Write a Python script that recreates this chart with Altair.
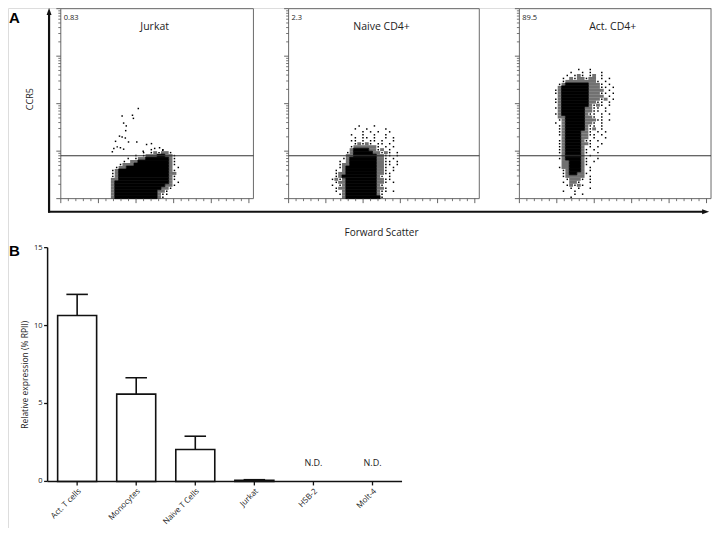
import altair as alt
import pandas as pd

# ---------------- data ----------------
panel_names = ["Jurkat", "Naive CD4+", "Act. CD4+"]
panel_pct = ["0.83", "2.3", "89.5"]
gate_level = [8.0, 8.0, 8.0]

fsc_major = [0, 200, 400, 600, 800, 1000]
fsc_minor = [40, 80, 120, 160, 240, 280, 320, 360, 440, 480, 520, 560,
             640, 680, 720, 760, 840, 880, 920, 960]
ccr5_major = [1, 10, 100, 1000, 10000]
ccr5_minor = [k * 10 ** e for e in range(4) for k in range(2, 10)]

# density maps of the dot clouds ('#' dense, '+' medium, '.' single events)
# column = 1/50 of the FSC range (0-1024), row = 1/16 decade of CCR5
jurkat_map = (12, 16, [
    "           .  .",
    "         . .+.++.",
    "       . .+++##++.",
    "     . .++######+.",
    "    . ++########+.",
    "   .+++#########+.",
    "  .++###########+ .",
    " .+#############+.",
    " .+#############++",
    " .+#############+.",
    " ++#############+.",
    " +##############+ .",
    " +#############++.",
    " +############++.",
    " +###########++.",
    " +###########+..",
    " +###########+.",
])
jurkat_out_x = [412, 326, 381, 386, 334, 348, 345, 312, 326, 343, 404, 291,
                360, 317, 334, 282, 456, 482, 438, 499, 525, 542, 274, 300]
jurkat_out_y = [79, 55, 57, 49, 39, 34, 27, 20.7, 19.8, 18.9, 15.6, 16.1,
                15.6, 11.8, 11.0, 11.4, 13.8, 14.4, 10.0, 11.4, 11.8, 10.5, 9.7, 12.3]

naive_map = (11, 24, [
    "       .   .",
    "      .  .    .",
    "        . . .  .",
    "     .  .  .  .",
    "      . .. .  . .",
    "     .. . .. .  .",
    "      .+.+. .. .",
    "     .++++++. . .",
    "     +####++.+ .",
    "    .+#####++.+. .",
    "    ++######++.. .",
    "   .+#######++. .",
    "  . +#######++.. .",
    "  .++#######++.. .",
    "  .+########++. .",
    " . +########++. .",
    " .++########++..",
    " .+#########+. .",
    ".+.+########++..",
    " .++########++. .",
    ". .+########+.",
    " .++########++.",
    " . +########+.. .",
    "  .+########+.",
    "   +#########.",
])

act_map = (9, 43, [
    "      .  .",
    "    .  . .  .",
    "   . .+. .+ .",
    "  . +.++.++ . .",
    "  .++++++++. .",
    " .+######+++. .",
    " +#######+++.. .",
    ".+#######++++ .",
    ".+#######+++.. .",
    " +#######++++ .",
    ".+#######+++.+ .",
    ".+#######++.. .",
    " +#######+.+. .",
    ".+######++.. .",
    " +######++.. .",
    ".+######+.. . .",
    " ++#####++. .",
    " .+#####+++.. .",
    ". +#####++. .",
    " .+#####+.. .",
    " .+#####+.+ .",
    " .+####++. . .",
    " .+####++.. .",
    "  +####++ .  .",
    " .+####+.. .",
    " .+####++.  .",
    " .+####+ . .",
    " .+####+. .",
    " .+####+.  .",
    "  +####+ .",
    " .+####+.  .",
    "  ++###+. .",
    "  ++###+.",
    " .++###+ .",
    "  .+###+ .",
    "  .+##++.",
    "  .+++++ .",
    "   .+++. .",
    "  . ++.  .",
    "   .+.+.",
    "    . .  .",
    "  .  .",
    "     . .",
    "    .",
])
flow_maps = [jurkat_map, naive_map, act_map]

bar_cats = ["Act. T cells", "Monocytes", "Naive T Cells", "Jurkat", "HSB-2", "Molt-4"]
bar_vals = [10.65, 5.6, 2.05, 0.08, None, None]
bar_err = [1.35, 1.05, 0.85, 0.03, None, None]
bar_ticks = [0, 5, 10, 15]
nd_cats = ["HSB-2", "Molt-4"]
nd_level = 1.2

# ---------------- layout helpers ----------------
SXF = 704 / 720
SYF = 520 / 536


def PX(x):
    return x * SXF


def PY(y):
    return y * SYF


FLOW_X = [(54, 251), (287, 482), (523, 719)]
FLOW_TOP, FLOW_BOT = 0.7, 196.5
FONT = "Open Sans"
CW = 1024 / 50
one = pd.DataFrame({"d": [0]})


def cell_tables(col0, top, rows):
    """Runs of '#' and '+' become rects, '.' cells become single dots."""
    runs, dots = [], []
    for i, s in enumerate(rows):
        r = top - i
        j = 0
        while j < len(s):
            ch = s[j]
            if ch == " ":
                j += 1
                continue
            if ch == ".":
                c = col0 + j
                dots.append({"xc": (c + 0.5) * CW, "yc": 10 ** ((r + 0.5) / 16)})
                j += 1
                continue
            k = j
            while k < len(s) and s[k] == ch:
                k += 1
            runs.append({"x0": (col0 + j) * CW, "x1": (col0 + k) * CW,
                         "y0": 10 ** (r / 16), "y1": 10 ** ((r + 1) / 16), "k": ch})
            j = k
    return pd.DataFrame(runs), pd.DataFrame(dots)


layers = []

for i in range(3):
    L, R = PX(FLOW_X[i][0]), PX(FLOW_X[i][1])
    T, B = PY(FLOW_TOP), PY(FLOW_BOT)
    xs = alt.Scale(domain=[0, 1024], range=[L, R], nice=False, zero=False)
    ys = alt.Scale(type="log", domain=[1, 10000], range=[B, T], nice=False)

    def XE(f):
        return alt.X(f, type="quantitative", scale=xs, axis=None)

    def YE(f):
        return alt.Y(f, type="quantitative", scale=ys, axis=None)

    runs, dots = cell_tables(*flow_maps[i])
    dense = runs[runs.k == "#"]
    mid = runs[runs.k == "+"]

    frame = pd.DataFrame({"x0": [0], "x1": [1024], "y0": [1], "y1": [10000]})
    layers.append(alt.Chart(frame).mark_rect(fillOpacity=0, stroke="#6a6a6a", strokeWidth=1)
                  .encode(x=XE("x0"), x2="x1:Q", y=YE("y0"), y2="y1:Q"))
    layers.append(alt.Chart(mid).mark_rect(color="#3a3a3a", opacity=0.72)
                  .encode(x=XE("x0"), x2="x1:Q", y=YE("y0"), y2="y1:Q"))
    layers.append(alt.Chart(dense).mark_rect(color="black", stroke="black", strokeWidth=0.7, opacity=1)
                  .encode(x=XE("x0"), x2="x1:Q", y=YE("y0"), y2="y1:Q"))
    layers.append(alt.Chart(dots).mark_square(size=2.2, color="black", opacity=1)
                  .encode(x=XE("xc"), y=YE("yc")))
    if i == 0:
        outl = pd.DataFrame({"x": jurkat_out_x, "y": jurkat_out_y})
        layers.append(alt.Chart(outl).mark_square(size=2.2, color="black", opacity=1)
                      .encode(x=XE("x"), y=YE("y")))
    gate = pd.DataFrame({"x0": [0], "x1": [1024], "g": [gate_level[i]]})
    layers.append(alt.Chart(gate).mark_rule(color="#333333", strokeWidth=1.1)
                  .encode(x=XE("x0"), x2="x1:Q", y=YE("g")))
    # axis ticks
    layers.append(alt.Chart(pd.DataFrame({"t": fsc_major})).mark_rule(color="#555555", strokeWidth=0.9)
                  .encode(x=XE("t"), y=alt.value(B), y2=alt.value(B + 4.5)))
    layers.append(alt.Chart(pd.DataFrame({"t": fsc_minor})).mark_rule(color="#555555", strokeWidth=0.8)
                  .encode(x=XE("t"), y=alt.value(B), y2=alt.value(B + 2.5)))
    layers.append(alt.Chart(pd.DataFrame({"t": ccr5_major})).mark_rule(color="#555555", strokeWidth=0.9)
                  .encode(y=YE("t"), x=alt.value(L - 4.5), x2=alt.value(L)))
    layers.append(alt.Chart(pd.DataFrame({"t": ccr5_minor})).mark_rule(color="#555555", strokeWidth=0.8)
                  .encode(y=YE("t"), x=alt.value(L - 2.5), x2=alt.value(L)))
    # labels
    layers.append(alt.Chart(pd.DataFrame({"t": [panel_pct[i]]}))
                  .mark_text(align="left", baseline="alphabetic", fontSize=7.5, font=FONT, color="#222")
                  .encode(text="t:N", x=alt.value(L + PX(3)), y=alt.value(PY(12))))
    cx = (FLOW_X[i][0] + FLOW_X[i][1]) / 2 - 2.5
    layers.append(alt.Chart(pd.DataFrame({"t": [panel_names[i]]}))
                  .mark_text(align="center", baseline="alphabetic", fontSize=10.5, font=FONT, color="#222")
                  .encode(text="t:N", x=alt.value(PX(cx)), y=alt.value(PY(23))))

# arrows and panel A titles
layers.append(alt.Chart(one).mark_rule(color="#111", strokeWidth=2.2)
              .encode(x=alt.value(PX(42)), y=alt.value(PY(5)), y2=alt.value(PY(211))))
layers.append(alt.Chart(one).mark_rule(color="#111", strokeWidth=2.2)
              .encode(y=alt.value(PY(210)), x=alt.value(PX(41)), x2=alt.value(PX(711))))
layers.append(alt.Chart(one).mark_point(shape="M0,-1L0.7,1L-0.7,1Z", filled=True, color="#111",
                                        size=49, opacity=1, strokeWidth=0)
              .encode(x=alt.value(PX(42)), y=alt.value(PY(3.5))))
layers.append(alt.Chart(one).mark_point(shape="M1,0L-1,0.7L-1,-0.7Z", filled=True, color="#111",
                                        size=49, opacity=1, strokeWidth=0)
              .encode(x=alt.value(PX(713.5)), y=alt.value(PY(210))))
layers.append(alt.Chart(one).mark_text(text="CCR5", angle=270, align="center", baseline="middle",
                                       fontSize=9, font=FONT, color="#222")
              .encode(x=alt.value(PX(22)), y=alt.value(PY(94))))
layers.append(alt.Chart(one).mark_text(text="Forward Scatter", align="center", baseline="middle",
                                       fontSize=10, font=FONT, color="#222")
              .encode(x=alt.value(PX(382)), y=alt.value(PY(232))))
layers.append(alt.Chart(one).mark_text(text="A", align="left", baseline="alphabetic",
                                       fontSize=15, fontWeight="bold", font="Liberation Sans", color="black")
              .encode(x=alt.value(PX(1)), y=alt.value(PY(15.5))))
layers.append(alt.Chart(one).mark_text(text="B", align="left", baseline="alphabetic",
                                       fontSize=15, fontWeight="bold", font="Liberation Sans", color="black")
              .encode(x=alt.value(PX(1)), y=alt.value(PY(256))))

# ---------------- panel B: bar chart ----------------
BL, BR = PX(40.5), PX(403)
B0, B15 = PY(488), PY(247)
xb = alt.Scale(domain=bar_cats, range=[BL, BR], paddingInner=0.34, paddingOuter=0.17)
yb = alt.Scale(domain=[0, 15], range=[B0, B15], nice=False, zero=True)


def XB(f):
    return alt.X(f, type="nominal", scale=xb, axis=None, sort=bar_cats)


def YB(f):
    return alt.Y(f, type="quantitative", scale=yb, axis=None)


bars = pd.DataFrame({"cat": bar_cats, "val": bar_vals, "err": bar_err}).dropna()
bars["hi"] = bars["val"] + bars["err"]

layers.append(alt.Chart(bars).mark_rule(color="#111", strokeWidth=1.6)
              .encode(x=XB("cat"), y=YB("val"), y2="hi:Q"))
layers.append(alt.Chart(bars).mark_tick(color="#111", thickness=1.6, size=PX(22), opacity=1)
              .encode(x=XB("cat"), y=YB("hi")))
layers.append(alt.Chart(bars).mark_bar(fill="white", stroke="#111", strokeWidth=1.6)
              .encode(x=XB("cat"), y=YB("val")))
axis_df = pd.DataFrame({"a": [0], "b": [15]})
layers.append(alt.Chart(axis_df).mark_rule(color="#111", strokeWidth=1.5)
              .encode(x=alt.value(BL), y=YB("a"), y2="b:Q"))
layers.append(alt.Chart(axis_df).mark_rule(color="#111", strokeWidth=1.5)
              .encode(y=YB("a"), x=alt.value(BL), x2=alt.value(BR)))
tick_df = pd.DataFrame({"t": bar_ticks})
layers.append(alt.Chart(tick_df).mark_rule(color="#111", strokeWidth=1.3)
              .encode(y=YB("t"), x=alt.value(BL - 3.5), x2=alt.value(BL)))
layers.append(alt.Chart(tick_df).mark_text(align="right", baseline="middle", fontSize=7.5,
                                           font=FONT, color="#222")
              .encode(y=YB("t"), x=alt.value(BL - 5), text="t:Q"))
cat_df = pd.DataFrame({"cat": bar_cats})
layers.append(alt.Chart(cat_df).mark_rule(color="#111", strokeWidth=1.3)
              .encode(x=XB("cat"), y=alt.value(B0), y2=alt.value(B0 + 4)))
layers.append(alt.Chart(cat_df).mark_text(align="right", baseline="middle", angle=315, dx=4,
                                          fontSize=8, font=FONT, color="#222")
              .encode(x=XB("cat"), y=alt.value(PY(500)), text="cat:N"))
nd_df = pd.DataFrame({"cat": nd_cats, "y": [nd_level] * len(nd_cats), "t": ["N.D."] * len(nd_cats)})
layers.append(alt.Chart(nd_df).mark_text(align="center", baseline="middle", fontSize=9,
                                         font=FONT, color="#222")
              .encode(x=XB("cat"), y=YB("y"), text="t:N"))
layers.append(alt.Chart(one).mark_text(text="Relative expression (% RPII)", angle=270, align="center",
                                       baseline="middle", fontSize=8.5, font=FONT, color="#222")
              .encode(x=alt.value(PX(17)), y=alt.value(PY(378))))

chart = (alt.layer(*layers)
         .resolve_scale(x="independent", y="independent")
         .properties(width=704, height=520, padding=0,
                     autosize=alt.AutoSizeParams(type="none"))
         .configure_view(strokeWidth=0)
         .configure(background="white"))

chart.save("out.html", embed_options={"renderer": "svg", "actions": False})
